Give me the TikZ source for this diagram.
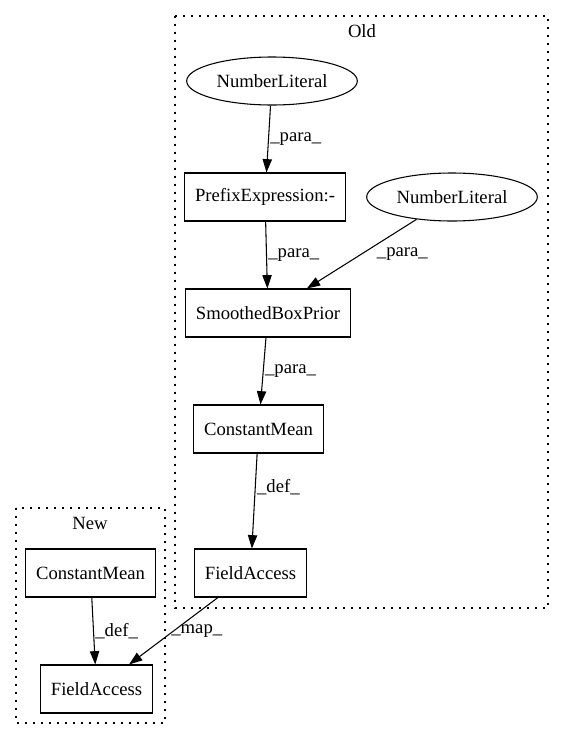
\documentclass[tikz,border=0pt]{standalone}
\usepackage{fontspec}
\setmainfont{Liberation Serif}
\usetikzlibrary{arrows.meta,shapes.geometric}
\begin{document}
\begin{tikzpicture}[x=0.75pt,y=-0.75pt,line width=0.8pt,
            font=\fontsize{14pt}{16pt}\selectfont,
            >={Triangle[length=10pt,width=7pt]},
            box/.style={shape=rectangle,draw=black,minimum height=36pt,inner xsep=8pt},
            lit/.style={shape=ellipse,draw=black,minimum width=128pt,minimum height=36pt,inner sep=0pt},
            cluster/.style={draw=black,dash pattern=on 1.2pt off 4.8pt},
            lbl/.style={anchor=west,inner sep=1pt}]
            \useasboundingbox (0,0) rectangle (564,740);

            % clusters
            \draw[cluster] (175,16) rectangle (548,608);
            \draw[cluster] (16,508) rectangle (165,723);
            \node (Old) at (362,31) {Old};
            \node (New) at (90,523) {New};

            \node[lit] (N1) at (272,81) {NumberLiteral};
            \node[box] (P) at (265,197) {PrefixExpression:-};
            \node[lit] (N2) at (452,197) {NumberLiteral};
            \node[box] (S) at (268,313) {SmoothedBoxPrior};
            \node[box] (C) at (258.5,429) {ConstantMean};
            \node[box] (F) at (250.5,573) {FieldAccess};
            \node[box] (C2) at (90.5,573) {ConstantMean};
            \node[box] (F2) at (96.5,689) {FieldAccess};

            \path [->] (N1) edge node[lbl] {\_para\_} (P);
            \path [->] (P) edge node[lbl] {\_para\_} (S);
            \path [->] (N2) edge node[lbl,xshift=10pt] {\_para\_} (S);
            \path [->] (S) edge node[lbl] {\_para\_} (C);
            \path [->] (C) edge node[lbl,pos=0.35] {\_def\_} (F);
            \path [->] (C2) edge node[lbl] {\_def\_} (F2);
            \path [->] (F) edge node[lbl,xshift=-3pt] {\_map\_} (F2);
        \end{tikzpicture}
\end{document}
